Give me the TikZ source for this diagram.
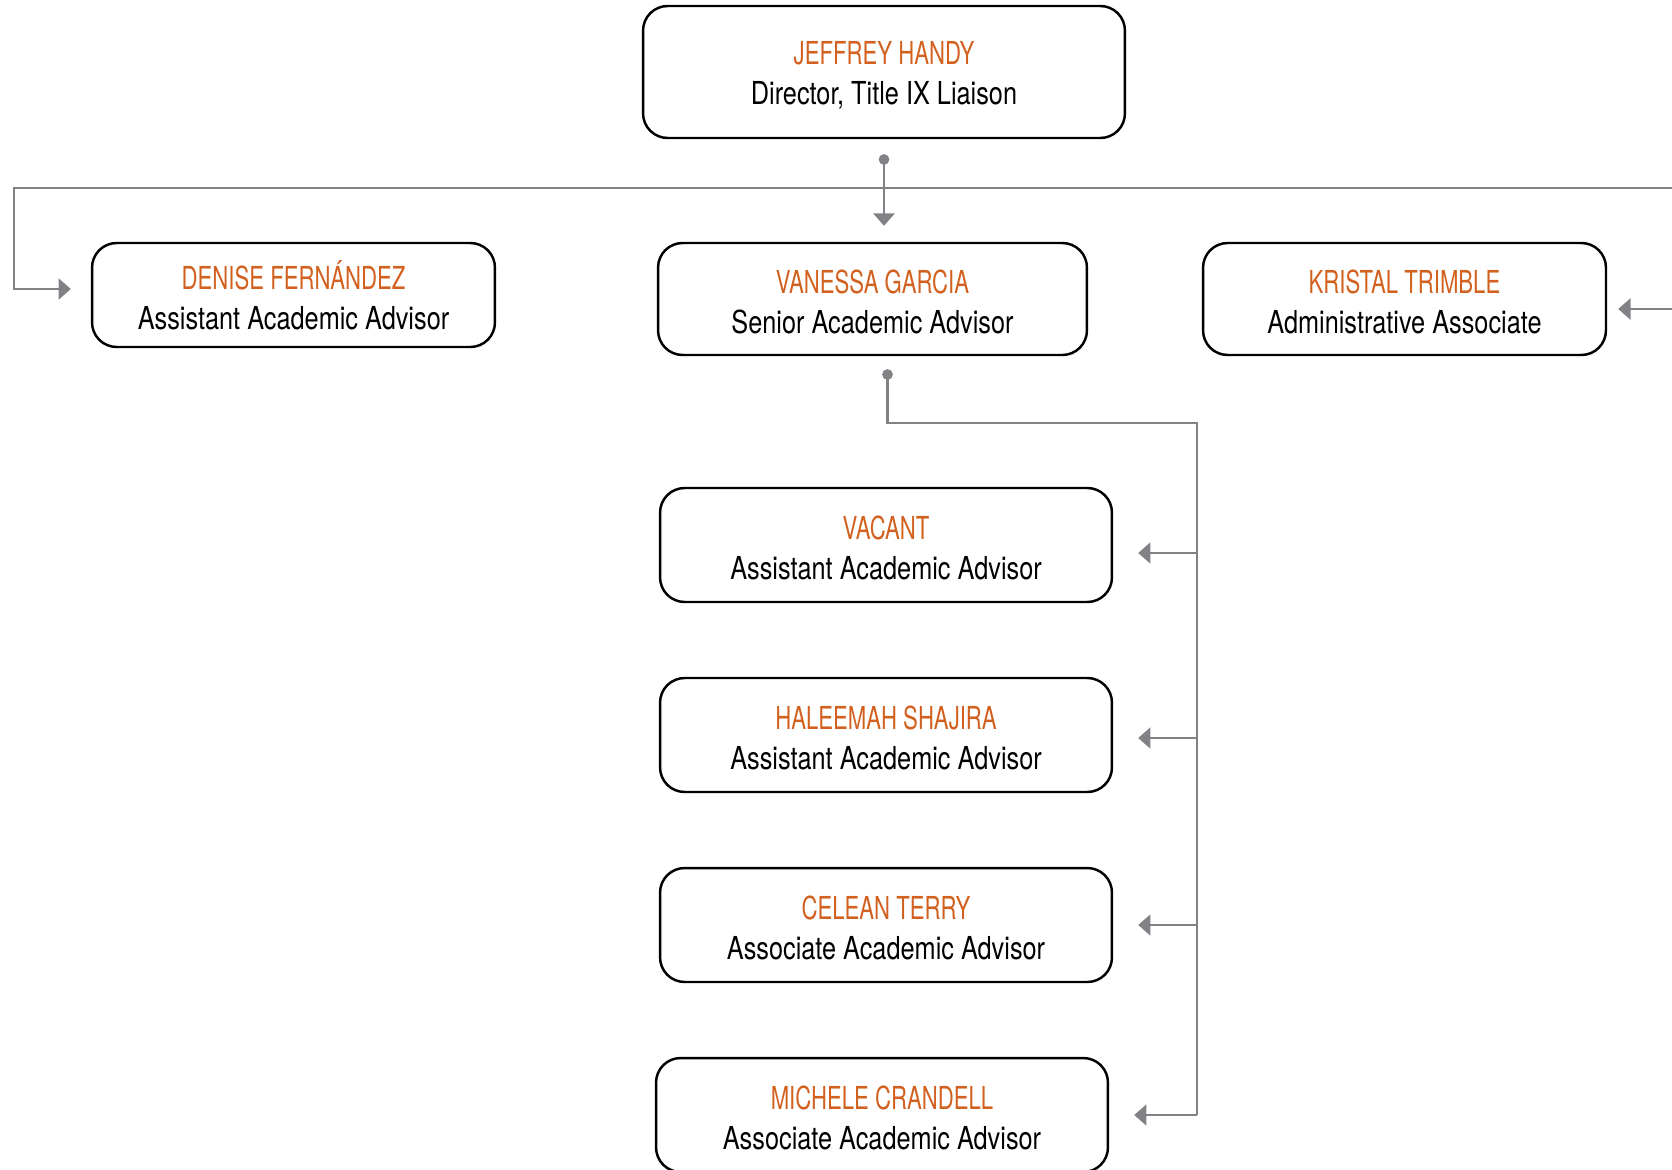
\documentclass[tikz,border=0pt]{standalone}
\usepackage{fontspec}
\setmainfont{TeX Gyre Heros}[FakeStretch=0.8]
\newfontfamily\namefont{TeX Gyre Heros}[FakeStretch=0.7]
\usetikzlibrary{arrows.meta,positioning}
\definecolor{utorange}{HTML}{D2601E}
\definecolor{linkgray}{HTML}{808285}
\newcommand{\pname}[2]{{\namefont\color{utorange}\rule{0pt}{17pt}#1}\\#2}
\tikzset{
    person/.style={
    rectangle,rounded corners=14pt,draw=black,line width=1.4pt,align=center,
    font=\fontsize{18}{22.5}\selectfont,inner sep=0pt
    },
    link/.style={
    draw=linkgray,line width=1.3pt
    },
    report/.style={
    link,-{Triangle[width=12pt,length=7pt]}
    },
    dotreport/.style={
    link,{Circle[length=6pt]}-{Triangle[width=12pt,length=7pt]}
    },
}
\begin{document}
\begin{tikzpicture}[x=0.02cm, y=-0.02cm]
   \useasboundingbox (0,0) rectangle (1672,1169);
   % people
   \node[person,minimum width=9.64cm,minimum height=2.64cm] (jeff) at (884,72) {\pname{JEFFREY HANDY}{Director, Title IX Liaison}};
   \node[person,minimum width=8.06cm,minimum height=2.08cm] (denise) at (293.5,295) {\pname{DENISE FERNÁNDEZ}{Assistant Academic Advisor}};
   \node[person,minimum width=8.58cm,minimum height=2.24cm] (vanessa) at (872.5,299) {\pname{VANESSA GARCIA}{Senior Academic Advisor}};
   \node[person,minimum width=8.06cm,minimum height=2.24cm] (kristal) at (1404.5,299) {\pname{KRISTAL TRIMBLE}{Administrative Associate}};
   \node[person,minimum width=9.04cm,minimum height=2.28cm] (vacant) at (886,545) {\pname{VACANT}{Assistant Academic Advisor}};
   \node[person,minimum width=9.04cm,minimum height=2.28cm] (haleemah) at (886,735) {\pname{HALEEMAH SHAJIRA}{Assistant Academic Advisor}};
   \node[person,minimum width=9.04cm,minimum height=2.28cm] (celean) at (886,925) {\pname{CELEAN TERRY}{Associate Academic Advisor}};
   \node[person,minimum width=9.04cm,minimum height=2.28cm] (michele) at (882,1115) {\pname{MICHELE CRANDELL}{Associate Academic Advisor}};

   % director level
   \coordinate (busL) at (14,188);
   \coordinate (busR) at (1700,188);
   \draw[dotreport,shorten <=0.3cm,shorten >=0.32cm] (jeff.south) -- (jeff.south |- vanessa.north);
   \draw[report,shorten >=0.4cm] (busR) -- (busL) |- ([yshift=0.12cm]denise.west);
   \draw[report,shorten >=0.22cm] (busR) |- ([yshift=-0.2cm]kristal.east);

   % advisors
   \coordinate (spine) at (1197,423);
   \draw[link,{Circle[length=6pt]}-,shorten <=0.26cm] ([xshift=0.3cm]vanessa.south) |- (spine) -- (spine |- michele.east);
   \foreach \sub/\dy in {vacant/-0.16,haleemah/-0.06,celean/0,michele/0} {
     \coordinate (tip) at ([yshift=\dy cm]\sub.east);
     \draw[report,shorten >=0.5cm] (spine |- tip) -- (tip);
   }
\end{tikzpicture}
\end{document}
